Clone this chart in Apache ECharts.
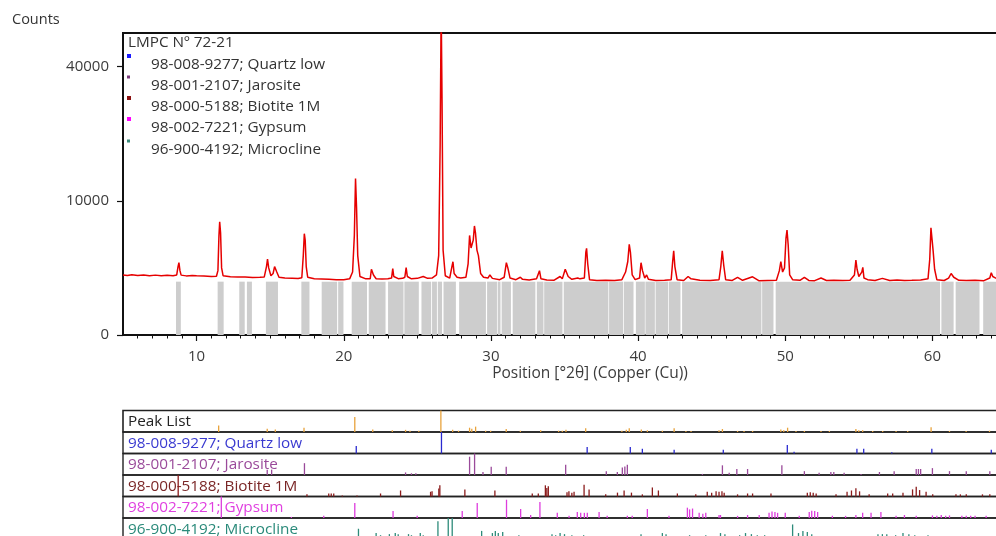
<!DOCTYPE html>
<html>
<head>
<meta charset="utf-8">
<script src="https://cdn.jsdelivr.net/npm/echarts@6/dist/echarts.min.js"></script>
<style>
html,body{margin:0;padding:0;background:#fff;}
#chart{width:996px;height:536px;}
</style>
</head>
<body>
<div id="chart"></div>
<script>
// ---------- data ----------
const xMin = 5, xMax = 65;
const xTickLabels = [10, 20, 30, 40, 50, 60];
const xMinorTicks = [6,7,8,9,11,12,13,14,15,16,17,18,19,21,22,23,24,25,26,27,28,29,31,32,33,34,35,36,37,38,39,41,42,43,44,45,46,47,48,49,51,52,53,54,55,56,57,58,59,61,62,63,64];
const yTickLabels = [0, 10000, 40000];
const yMaxCounts = 50625;
const grayLevel = 1580;

const legendTitle = 'LMPC Nº 72-21';
const phaseNames = ['98-008-9277; Quartz low','98-001-2107; Jarosite','98-000-5188; Biotite 1M','98-002-7221; Gypsum','96-900-4192; Microcline'];
const rowNames = ['Peak List','98-008-9277; Quartz low','98-001-2107; Jarosite','98-000-5188; Biotite 1M','98-002-7221; Gypsum','96-900-4192; Microcline'];

// measured pattern [2theta, counts]
const pattern = [
[5.0,2000],[5.3,1960],[5.6,2010],[6.0,1970],[6.4,2000],[6.8,1950],[7.2,1990],[7.6,1950],[8.0,1975],[8.4,1950],[8.65,2000],[8.74,2600],[8.8,2900],[8.87,2300],[8.95,1990],[9.3,1940],[9.7,1970],[10.0,1950],[10.5,1930],[11.0,1900],[11.35,1920],[11.45,2300],[11.52,5500],[11.57,7100],[11.63,5800],[11.7,2500],[11.8,1950],[12.3,1890],[12.8,1860],[13.3,1870],[13.8,1840],[14.3,1850],[14.6,1870],[14.75,2600],[14.82,3200],[14.9,2500],[15.05,1950],[15.2,2100],[15.3,2600],[15.36,2720],[15.45,2200],[15.6,1850],[16.0,1800],[16.5,1790],[16.9,1770],[17.15,1820],[17.25,3500],[17.32,5700],[17.38,5000],[17.45,2600],[17.55,1850],[18.0,1760],[18.5,1740],[19.0,1720],[19.5,1700],[20.0,1700],[20.4,1750],[20.6,2200],[20.72,5500],[20.8,13600],[20.87,9000],[20.95,3500],[21.1,1900],[21.5,1750],[21.8,1760],[21.88,2400],[21.94,2540],[22.02,2000],[22.2,1760],[22.6,1740],[23.0,1760],[23.25,1800],[23.33,2450],[23.4,1900],[23.7,1760],[24.0,1780],[24.15,1850],[24.24,2520],[24.32,1900],[24.6,1750],[25.0,1780],[25.4,1900],[25.7,1780],[26.0,1800],[26.3,2000],[26.45,3500],[26.55,20000],[26.62,60000],[26.68,30000],[26.75,4000],[26.9,1950],[27.2,1800],[27.35,2600],[27.42,2980],[27.5,2100],[27.7,1850],[27.8,1980],[27.95,1800],[28.3,1850],[28.45,2800],[28.55,5500],[28.65,4200],[28.8,5000],[28.88,6600],[28.95,5800],[29.05,4000],[29.15,3500],[29.3,2100],[29.5,1850],[29.8,1800],[29.93,2000],[30.1,1780],[30.6,1700],[30.9,1850],[31.05,2900],[31.15,2500],[31.3,1800],[31.7,1700],[32.0,1850],[32.15,1720],[32.6,1680],[33.1,1750],[33.3,2300],[33.4,1750],[33.8,1680],[34.3,1670],[34.7,1900],[34.85,1750],[35.05,2400],[35.12,2470],[35.25,1900],[35.5,1720],[35.9,1800],[36.05,1750],[36.35,1800],[36.45,3800],[36.5,4170],[36.58,2800],[36.7,1700],[37.2,1650],[37.8,1660],[38.4,1650],[38.9,1700],[39.15,2200],[39.3,3000],[39.4,4560],[39.48,3800],[39.6,2000],[39.8,1700],[40.1,1800],[40.2,2900],[40.3,2300],[40.45,1800],[40.58,2000],[40.7,1720],[41.2,1650],[41.8,1660],[42.25,1700],[42.35,3000],[42.42,3940],[42.5,2600],[42.65,1700],[43.1,1650],[43.4,1900],[43.6,1750],[44.2,1660],[44.9,1650],[45.5,1700],[45.62,2600],[45.72,3940],[45.82,2700],[45.95,1700],[46.4,1650],[46.76,1850],[47.1,1660],[47.78,1880],[48.2,1640],[48.8,1650],[49.4,1660],[49.6,2300],[49.7,2980],[49.82,2200],[49.95,2500],[50.05,5200],[50.12,6100],[50.2,4500],[50.3,2000],[50.5,1700],[51.0,1660],[51.3,1850],[51.6,1650],[52.0,1640],[52.43,1800],[52.8,1650],[53.3,1660],[53.9,1650],[54.4,1660],[54.7,2000],[54.8,3120],[54.88,2400],[55.0,1900],[55.2,2200],[55.27,2540],[55.35,1800],[55.6,1700],[56.1,1650],[56.6,1780],[57.1,1650],[57.6,1680],[58.1,1650],[58.6,1660],[59.2,1680],[59.7,1750],[59.82,3200],[59.9,6380],[59.98,5000],[60.05,3900],[60.15,2400],[60.3,1700],[60.8,1650],[61.1,1800],[61.27,2100],[61.45,1850],[61.8,1660],[62.3,1650],[62.9,1660],[63.5,1640],[63.9,1800],[64.0,2150],[64.1,1900],[64.5,1700],[65.0,1680]
];

// gray reference bands [start, end] in 2theta
const grayRanges = [
[8.6,8.93],[11.43,11.84],[12.9,13.27],[13.42,13.76],[14.71,15.53],[17.12,17.67],
[18.5,19.55],[19.62,19.98],[20.54,21.58],[21.7,22.84],[23.01,24.06],[24.12,25.1],
[25.28,25.94],[26.0,26.33],[26.39,26.68],[26.78,27.62],[27.84,29.66],[29.74,30.41],[30.46,30.65],
[30.73,31.36],[31.48,33.02],[33.12,33.57],[33.62,34.86],[34.95,37.98],[38.03,38.98],[39.03,39.69],
[39.85,40.46],[40.5,41.14],[41.19,42.04],[42.09,42.88],[42.99,48.38],[48.43,49.2],[49.35,60.52],
[60.61,61.44],[61.58,63.2],[63.45,65]
];

// stick lists [2theta, relative intensity %]
const peakList = [[11.5,30],[14.8,15],[15.35,12],[17.3,20],[20.75,70],[21.97,12],[23.3,8],[24.2,10],[24.5,6],[25.1,6],[26.6,100],[27.4,10],[27.8,6],[28.55,20],[28.7,15],[28.96,25],[29.64,6],[29.98,6],[31.04,14],[32.0,6],[33.38,8],[34.6,6],[34.85,6],[35.1,10],[36.44,18],[38.9,6],[39.2,10],[39.4,18],[40.22,12],[40.63,8],[41.65,6],[42.45,18],[43.25,5],[43.6,5],[45.5,8],[45.73,14],[46.76,5],[47.2,5],[47.78,5],[49.7,12],[49.9,8],[50.16,20],[50.73,5],[51.3,5],[52.43,5],[53.0,5],[54.8,14],[55.0,8],[55.26,8],[55.94,5],[56.62,5],[57.53,5],[58.32,5],[59.91,22],[61.16,5],[62.29,5],[63.88,6]];
const quartz = [[20.85,35],[26.64,100],[36.54,30],[39.47,30],[40.29,22],[42.45,18],[45.79,18],[50.14,40],[50.6,8],[54.87,22],[55.33,22],[57.24,6],[59.96,22],[64.0,18]];
const jarosite = [[14.8,25],[15.1,25],[17.33,55],[24.2,12],[24.6,8],[24.9,8],[28.55,85],[28.89,100],[29.46,14],[30.02,38],[31.04,38],[35.08,48],[37.84,18],[38.59,14],[38.93,35],[39.1,40],[39.27,48],[44.37,5],[45.73,45],[46.19,10],[46.71,28],[47.44,28],[49.77,45],[51.3,18],[52.3,10],[53.1,14],[53.3,14],[54.0,10],[55.15,5],[56.4,14],[57.4,18],[58.9,28],[59.05,28],[59.2,28],[60.0,32],[61.16,18],[62.3,18],[63.9,18]];
const biotite = [[8.75,100],[17.5,10],[18.98,14],[19.15,14],[19.32,14],[19.9,5],[20.9,5],[22.5,14],[23.86,28],[25.9,22],[26.0,25],[26.46,37],[26.53,52],[28.23,33],[30.27,28],[32.81,14],[33.22,14],[33.7,52],[33.8,40],[33.9,48],[35.17,20],[35.3,24],[35.5,18],[35.65,22],[36.33,55],[36.67,33],[37.8,10],[38.6,18],[39.05,28],[39.55,18],[40.29,10],[40.97,42],[41.38,28],[42.67,14],[43.92,10],[44.7,22],[45.0,18],[45.3,24],[45.5,22],[45.7,24],[45.85,18],[46.76,10],[47.44,14],[47.78,14],[49.03,14],[51.5,18],[51.7,20],[51.9,18],[52.1,14],[53.45,10],[54.2,22],[54.5,28],[54.8,38],[55.05,24],[55.7,10],[56.96,14],[57.3,14],[58.0,18],[58.65,33],[58.9,45],[59.13,30],[59.57,22],[60.02,10],[61.6,10],[61.9,10],[62.3,10],[63.4,10],[63.9,10]];
const gypsum = [[11.68,100],[16.44,5],[18.64,10],[20.75,70],[23.35,33],[24.99,10],[28.05,33],[29.07,70],[31.06,85],[32.02,42],[32.7,14],[33.33,75],[34.51,24],[35.31,10],[35.87,28],[36.1,24],[36.35,24],[36.55,24],[37.35,28],[37.9,10],[39.27,10],[39.6,10],[40.63,42],[42.1,10],[43.35,48],[43.5,40],[43.7,44],[44.15,24],[44.4,20],[44.6,24],[45.5,14],[45.6,14],[46.76,10],[47.44,14],[48.23,14],[48.9,24],[49.1,30],[49.3,28],[49.48,24],[50.0,24],[50.95,10],[51.63,28],[51.8,34],[52.0,32],[52.2,28],[53.2,10],[54.1,10],[54.8,14],[55.26,24],[55.83,24],[56.5,28],[57.53,10],[58.1,14],[58.9,10],[60.0,12],[60.3,10],[60.6,14],[60.9,10],[61.16,12],[62.0,10],[62.3,10],[62.6,10],[62.9,10],[63.65,10]];
const microcline = [[13.5,15],[21.0,50],[22.2,30],[22.5,20],[23.1,25],[23.5,30],[23.7,25],[24.4,25],[24.6,20],[25.2,30],[25.4,20],[26.4,85],[27.1,100],[27.37,100],[29.37,40],[30.1,30],[30.3,40],[30.5,30],[30.8,35],[31.9,20],[32.3,15],[34.15,25],[34.4,20],[34.7,30],[35.0,25],[35.5,20],[36.3,20],[37.0,15],[37.7,15],[38.4,15],[39.1,15],[40.2,25],[40.5,15],[41.65,30],[41.9,25],[43.0,15],[43.5,20],[44.0,15],[44.6,20],[45.0,15],[45.6,30],[45.9,25],[46.3,15],[46.9,20],[47.3,30],[47.7,25],[48.1,20],[48.6,20],[49.0,15],[49.5,15],[50.5,70],[50.9,30],[51.2,40],[51.5,35],[51.8,25],[52.6,15],[53.2,15],[53.8,15],[54.5,15],[55.2,15],[55.8,15],[56.3,25],[56.6,25],[56.9,25],[57.5,20],[58.0,30],[58.4,25],[58.8,20],[59.7,20]];

const stickSets = [peakList, quartz, jarosite, biotite, gypsum, microcline];

// ---------- styling ----------
const FONT = '"Open Sans", "Noto Sans", sans-serif';
const FS = 15.3;
const stickColors = ['#e8a33d','#2a2ad0','#9a4a9a','#8b1c1c','#dd3ddd','#2e8b7a'];
const rowTextColors = ['#222222','#3a3ad0','#9a4a9a','#7a2626','#e040e0','#2a8a7a'];
const legendSwatch = ['#1a1aff','#7a3a7a','#8b1010','#ff00ff','#3a8a7a'];

const mainGrid = {left:123, top:33, right:-10, height:302};
const rowTop0 = 410.5, rowH = 21.5;

const sq = v => Math.sqrt(v);

const grids = [Object.assign({show:true, borderColor:'#111', borderWidth:2, outerBoundsMode:'none', containLabel:false}, mainGrid)];
const xAxes = [
  {gridIndex:0, type:'value', position:'bottom', min:xMin, max:xMax,
   axisLine:{show:true, lineStyle:{color:'#111', width:2}},
   axisTick:{show:true, length:6, customValues:xTickLabels, lineStyle:{color:'#111', width:1.2}},
   axisLabel:{show:true, customValues:xTickLabels, color:'#3c3c3c', fontSize:15, fontFamily:FONT, margin:14},
   splitLine:{show:false}},
  {gridIndex:0, type:'value', position:'bottom', min:xMin, max:xMax,
   axisLine:{show:false},
   axisTick:{show:true, length:3.5, customValues:xMinorTicks, lineStyle:{color:'#111', width:1}},
   axisLabel:{show:false}, splitLine:{show:false}}
];
const yAxes = [
  {gridIndex:0, type:'value', min:0, max:sq(yMaxCounts),
   axisLine:{show:true, lineStyle:{color:'#111', width:2}},
   axisTick:{show:true, length:6, customValues:yTickLabels.map(sq), lineStyle:{color:'#111', width:1.2}},
   axisLabel:{show:true, customValues:yTickLabels.map(sq), color:'#3c3c3c', fontSize:15, fontFamily:FONT, margin:14,
     formatter: v => String(Math.round(v*v))},
   splitLine:{show:false}}
];

const series = [
  {type:'custom', xAxisIndex:0, yAxisIndex:0, z:1, silent:true,
   data: grayRanges,
   renderItem: function(params, api){
     const a = api.coord([api.value(0), 0]);
     const b = api.coord([api.value(1), sq(grayLevel)]);
     return {type:'rect', shape:{x:a[0], y:b[1], width:b[0]-a[0], height:a[1]-b[1]}, style:{fill:'#cdcdcd'}};
   }},
  {type:'line', xAxisIndex:0, yAxisIndex:0, z:3, showSymbol:false, clip:true, silent:true,
   data: pattern.map(p => [p[0], sq(p[1])]),
   lineStyle:{color:'#e60000', width:1.5}}
];

stickSets.forEach((set, i) => {
  const gi = i + 1;
  grids.push({show:true, borderColor:'#222', borderWidth: i===0 ? 1.6 : 1.4, left:123, right:-10, top:rowTop0 + i*rowH, height:rowH, outerBoundsMode:'none', containLabel:false});
  xAxes.push({gridIndex:gi, type:'value', min:xMin, max:xMax, show:false});
  yAxes.push({gridIndex:gi, type:'value', min:0, max:100, show:false});
  const col = stickColors[i];
  series.push({type:'custom', xAxisIndex:gi+1, yAxisIndex:gi, silent:true, z:4,
    data:set,
    renderItem: function(params, api){
      const p0 = api.coord([api.value(0), 0]);
      const p1 = api.coord([api.value(0), api.value(1)]);
      return {type:'line', shape:{x1:p0[0], y1:p0[1], x2:p1[0], y2:p1[1]}, style:{stroke:col, lineWidth:1.3}};
    }});
});

const graphics = [
  {type:'text', x:12, y:20, style:{text:'Counts', fill:'#333', font:'14.5px ' + FONT, verticalAlign:'middle'}},
  {type:'text', x:590, y:374, style:{text:'Position [°2θ] (Copper (Cu))', fill:'#3c3c3c', font:'15.5px ' + FONT, align:'center', verticalAlign:'middle'}},
  {type:'text', x:128, y:43, style:{text:legendTitle, fill:'#333', font:FS + 'px ' + FONT, verticalAlign:'middle'}}
];
const legendRowY = [65, 86, 107, 128, 150];
const swatchY = [56, 77, 98, 119, 141];
const swatchSize = [4, 3, 4, 4, 3];
phaseNames.forEach((n, i) => {
  graphics.push({type:'text', x:151, y:legendRowY[i], style:{text:n, fill:'#333', font:FS + 'px ' + FONT, verticalAlign:'middle'}});
  graphics.push({type:'rect', shape:{x:127, y:swatchY[i]-swatchSize[i]/2, width:swatchSize[i], height:swatchSize[i]}, style:{fill:legendSwatch[i]}});
});
rowNames.forEach((n, i) => {
  graphics.push({type:'text', x:128, y:rowTop0 + i*rowH + rowH/2 + 0.5, z:2, style:{text:n, fill:rowTextColors[i], font:FS + 'px ' + FONT, verticalAlign:'middle'}});
});

const chart = echarts.init(document.getElementById('chart'), null, {renderer:'canvas'});
chart.setOption({
  animation:false,
  backgroundColor:'#ffffff',
  grid:grids,
  xAxis:xAxes,
  yAxis:yAxes,
  series:series,
  graphic:graphics
});
</script>
</body>
</html>
